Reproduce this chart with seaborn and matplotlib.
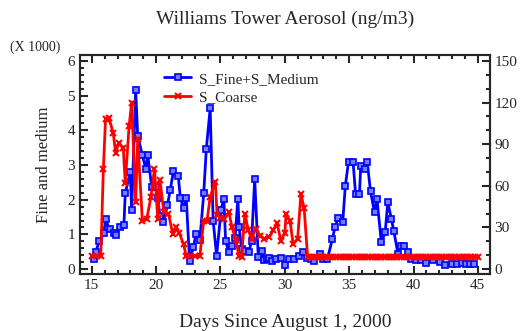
import matplotlib
matplotlib.use("Agg")
import matplotlib.pyplot as plt
from matplotlib.ticker import MultipleLocator
import seaborn as sns

# S_Fine+S_Medium (ng/m3), left axis
fine_days = [15.16, 15.29, 15.6, 15.94, 16.07, 16.38, 16.74, 16.9, 17.2, 17.5,
             17.6, 17.99, 18.1, 18.41, 18.57, 18.93, 19.2, 19.35, 19.66, 19.97,
             20.13, 20.3, 20.57, 20.88, 21.1, 21.35, 21.72, 21.88, 22.13, 22.34,
             22.6, 22.9, 23.1, 23.4, 23.7, 23.9, 24.2, 24.43, 24.7, 25.05,
             25.26, 25.4, 25.65, 25.9, 26.14, 26.35, 26.45, 26.64, 26.9, 27.2,
             27.42, 27.66, 27.94, 28.2, 28.4, 28.6, 28.77, 29.04, 29.3, 29.7,
             30.0, 30.3, 30.7, 31.1, 31.4, 31.7, 32.0, 32.3, 32.7, 33.0,
             33.3, 33.7, 33.9, 34.16, 34.5, 34.7, 34.95, 35.3, 35.5, 35.8,
             35.9, 36.2, 36.4, 36.66, 36.97, 37.16, 37.5, 37.8, 38.0, 38.28,
             38.46, 38.8, 39.06, 39.3, 39.6, 39.84, 40.2, 40.6, 41.0, 41.5,
             42.05, 42.45, 42.97, 43.4, 43.75, 44.1, 44.4, 44.7]
fine_vals = [290, 480, 820, 1030, 1430, 1150, 1050, 990, 1200, 1280,
             2180, 2810, 1690, 5150, 3850, 3280, 2890, 3290, 2360, 2370,
             2040, 1520, 1350, 1840, 2290, 2830, 2690, 2060, 1750, 2060,
             230, 640, 1010, 840, 2180, 3460, 4630, 1400, 380, 1710,
             2030, 820, 480, 670, 910, 2030, 1220, 570, 520, 480,
             820, 2590, 350, 520, 250, 300, 310, 230, 280, 310,
             120, 280, 280, 370, 480, 330, 280, 230, 430, 300,
             280, 870, 1220, 1470, 1350, 2390, 3100, 3100, 2160, 2160,
             2970, 2880, 3100, 2240, 1640, 2030, 770, 1060, 1930, 1450,
             1110, 430, 670, 670, 480, 280, 250, 250, 180, 250,
             210, 120, 140, 140, 180, 140, 140, 140]

# S_Coarse (ng/m3), right axis
coarse_days = [15.0, 15.37, 15.7, 15.9, 16.07, 16.33, 16.67, 16.85, 17.1, 17.45,
               17.6, 17.9, 18.1, 18.41, 18.57, 18.93, 19.27, 19.6, 19.87, 20.13,
               20.3, 20.6, 20.96, 21.3, 21.56, 21.8, 22.13, 22.34, 22.6, 23.0,
               23.4, 23.7, 23.96, 24.2, 24.6, 24.74, 25.0, 25.3, 25.65, 25.9,
               26.2, 26.43, 26.64, 26.9, 27.16, 27.42, 27.73, 28.1, 28.4, 28.77,
               29.1, 29.4, 29.7, 30.0, 30.1, 30.4, 30.65, 31.0, 31.25, 31.5,
               31.77, 32.0, 32.25, 32.5, 32.75, 33.0, 33.25, 33.5, 33.75, 34.0,
               34.25, 34.5, 34.75, 35.0, 35.25, 35.5, 35.75, 36.0, 36.25, 36.5,
               36.75, 37.0, 37.25, 37.5, 37.75, 38.0, 38.25, 38.5, 38.75, 39.0,
               39.25, 39.5, 39.75, 40.0, 40.25, 40.5, 40.75, 41.0, 41.25, 41.5,
               41.75, 42.0, 42.25, 42.5, 42.75, 43.0, 43.25, 43.5, 43.75, 44.0,
               44.25, 44.5, 44.75, 45.0]
coarse_vals = [9.5, 9.5, 9.5, 72, 108, 109, 98, 84, 91, 87,
               62, 103, 120, 48, 94, 35, 36, 52, 72, 36,
               64, 41, 40, 25, 30, 26, 18, 9.5, 9.5, 9.5,
               9.5, 35, 35, 52, 63, 39, 37, 36, 41, 30,
               21, 9.5, 9, 40, 28, 22, 29, 24, 22, 23,
               28, 33, 20, 26, 40, 35, 18, 22, 54, 44,
               9, 9, 9, 9, 9, 9, 9, 9, 9, 9,
               9, 9, 9, 9, 9, 9, 9, 9, 9, 9,
               9, 9, 9, 9, 9, 9, 9, 9, 9, 9,
               9, 9, 9, 9, 9, 9, 9, 9, 9, 9,
               9, 9, 9, 9, 9, 9, 9, 9, 9, 9,
               9, 9, 9, 9]

sns.set_style("ticks")
plt.rcParams['font.family'] = ['Liberation Serif', 'DejaVu Serif']
plt.rcParams['xtick.direction'] = 'in'
plt.rcParams['ytick.direction'] = 'in'

fig = plt.figure(figsize=(5.25, 3.31), dpi=100)
ax = fig.add_axes([0.152, 0.172, 0.781, 0.662])
ax2 = ax.twinx()

# seaborn puts white edges on markers by default, so set them explicitly
sns.lineplot(x=fine_days, y=fine_vals, ax=ax, color='#0000ff', lw=2,
             marker='s', ms=4.5, mfc='#7080ff', mec='#0000ff', mew=1.2,
             label='S_Fine+S_Medium', legend=False)
sns.lineplot(x=coarse_days, y=coarse_vals, ax=ax2, color='#ff0000', lw=2,
             marker='x', ms=5, mec='#ff0000', mew=1.5,
             label='S_Coarse', legend=False)

ax.set_xlim(14.07, 45.93)
ax.set_ylim(-144, 6173)
ax2.set_ylim(-3.6, 154.3)

ax.xaxis.set_major_locator(MultipleLocator(5))
ax.xaxis.set_minor_locator(MultipleLocator(1))
ax.yaxis.set_minor_locator(MultipleLocator(200))
ax.set_yticks([0, 1000, 2000, 3000, 4000, 5000, 6000])
ax.set_yticklabels(['0', '1', '2', '3', '4', '5', '6'])
ax2.yaxis.set_major_locator(MultipleLocator(30))
ax2.yaxis.set_minor_locator(MultipleLocator(10))

ax.tick_params(which='both', top=True, labelsize=11, width=1.5)
ax.tick_params(which='major', length=6)
ax.tick_params(which='minor', length=3)
ax2.tick_params(which='both', labelsize=11, width=1.5)
ax2.tick_params(which='major', length=6)
ax2.tick_params(which='minor', length=3)
for a in (ax, ax2):
    for s in a.spines.values():
        s.set_linewidth(1.5)
        s.set_visible(True)

ax.set_xlabel('Days Since August 1, 2000', fontsize=14, labelpad=16)
ax.set_ylabel('Fine and medium', fontsize=12, labelpad=11)
ax.set_title('Williams Tower Aerosol (ng/m3)', fontsize=14, pad=22)
fig.text(0.02, 0.845, '(X 1000)', fontsize=10)

h1, l1 = ax.get_legend_handles_labels()
h2, l2 = ax2.get_legend_handles_labels()
ax2.legend(h1 + h2, l1 + l2, loc='upper left', bbox_to_anchor=(0.19, 0.95),
           frameon=False, fontsize=11, handlelength=1.8, handletextpad=0.5,
           borderaxespad=0, labelspacing=0.3)

fig.savefig('out.png', dpi=100)
